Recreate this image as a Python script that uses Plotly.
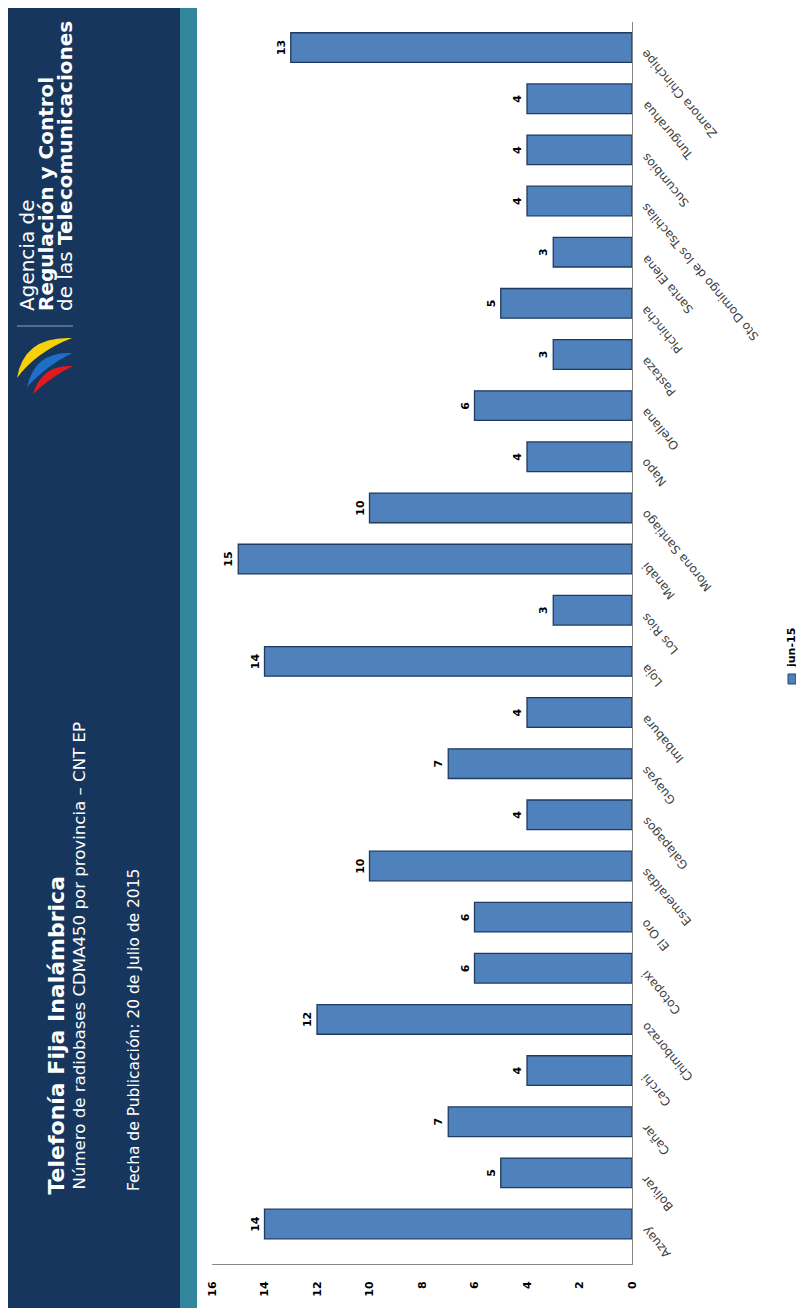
import plotly.graph_objects as go

# ---------------- data ----------------
provincias = ["Azuay", "Bolivar", "Cañar", "Carchi", "Chimborazo", "Cotopaxi", "El Oro",
              "Esmeraldas", "Galapagos", "Guayas", "Imbabura", "Loja", "Los Rios", "Manabi",
              "Morona Santiago", "Napo", "Orellana", "Pastaza", "Pichincha", "Santa Elena",
              "Sto Domingo de los Tsachilas", "Sucumbios", "Tungurahua", "Zamora Chinchipe"]
radiobases_jun15 = [14, 5, 7, 4, 12, 6, 6, 10, 4, 7, 4, 14, 3, 15, 10, 4, 6, 3, 5, 3, 4, 4, 4, 13]
serie_nombre = "jun-15"
valor_ticks = [0, 2, 4, 6, 8, 10, 12, 14, 16]

titulo = "Telefonía Fija Inalámbrica"
subtitulo = "Número de radiobases CDMA450 por provincia – CNT EP"
fecha = "Fecha de Publicación: 20 de Julio de 2015"
agencia = ["Agencia de", "<b>Regulación y Control</b>", "de las <b>Telecomunicaciones</b>"]

# ---------------- layout geometry ----------------
# page coordinates below; the page body adds an 8px offset
OFF = 8
W, H = 796, 1300
PLOT_L, PLOT_R, PLOT_T, PLOT_B = 212, 632, 22, 1264  # page pixels
ML = PLOT_L - OFF
MR = W - (PLOT_R - OFF)
MT = PLOT_T - OFF
MB = H - (PLOT_B - OFF)
PW, PH = W - ML - MR, H - MT - MB


def px(x):
    return (x - OFF - ML) / PW


def py(y):
    return (H - MB - (y - OFF)) / PH


NAVY = "#17365d"
TEAL = "#31869b"
BAR = "#4f81bd"

fig = go.Figure()
fig.add_trace(go.Bar(
    y=provincias, x=radiobases_jun15, orientation="h", name=serie_nombre,
    marker=dict(color=BAR, line=dict(color="#1f3b60", width=1.3)),
    text=radiobases_jun15, textposition="outside", textangle=-90,
    textfont=dict(family="DejaVu Sans", size=11, color="#000000", weight="bold"),
    cliponaxis=False, showlegend=False,
))

shapes = [
    dict(type="rect", xref="paper", yref="paper", x0=px(8), x1=px(180), y0=py(8), y1=py(1308),
         fillcolor=NAVY, line=dict(width=0), layer="below"),
    dict(type="rect", xref="paper", yref="paper", x0=px(180), x1=px(197), y0=py(8), y1=py(1308),
         fillcolor=TEAL, line=dict(width=0), layer="below"),
    # separator in header
    dict(type="line", xref="paper", yref="paper", x0=px(17), x1=px(73), y0=py(326), y1=py(326),
         line=dict(color="#8ea3bd", width=1)),
    # legend key
    dict(type="rect", xref="paper", yref="paper", x0=px(788), x1=px(796), y0=py(674), y1=py(684),
         fillcolor=BAR, line=dict(color="#23426b", width=1)),
]


def crescent(t1, t2, c_out, c_in, color):
    p = (f"M {px(t1[0])},{py(t1[1])} Q {px(c_out[0])},{py(c_out[1])} {px(t2[0])},{py(t2[1])} "
         f"Q {px(c_in[0])},{py(c_in[1])} {px(t1[0])},{py(t1[1])} Z")
    return dict(type="path", xref="paper", yref="paper", path=p, fillcolor=color,
                line=dict(width=0))


shapes += [
    crescent((17, 378), (72, 338), (24, 336), (36, 352), "#f6d10c"),
    crescent((27, 387), (72, 353), (35, 351), (46, 366), "#1f6fc8"),
    crescent((33, 394), (73, 366), (42, 364), (52, 376), "#e2191f"),
]

annotations = []
# header text (rotated)
for txt, xc in zip(agencia, [27, 46, 65]):
    annotations.append(dict(text=txt, xref="paper", yref="paper", x=px(xc), y=py(313),
                            xanchor="center", yanchor="bottom", textangle=-90, showarrow=False,
                            font=dict(family="DejaVu Sans", size=20, color="#ffffff")))
annotations.append(dict(text=f"<b>{titulo}</b>", xref="paper", yref="paper", x=px(56), y=py(1197),
                        xanchor="center", yanchor="bottom", textangle=-90, showarrow=False,
                        font=dict(family="DejaVu Sans", size=22, color="#ffffff")))
annotations.append(dict(text=subtitulo, xref="paper", yref="paper", x=px(79), y=py(1192),
                        xanchor="center", yanchor="bottom", textangle=-90, showarrow=False,
                        font=dict(family="DejaVu Sans", size=16.6, color="#ffffff")))
annotations.append(dict(text=fecha, xref="paper", yref="paper", x=px(134), y=py(1193),
                        xanchor="center", yanchor="bottom", textangle=-90, showarrow=False,
                        font=dict(family="DejaVu Sans", size=15.5, color="#ffffff")))
# legend text
annotations.append(dict(text=f"<b>{serie_nombre}</b>", xref="paper", yref="paper", x=px(791),
                        y=py(670), xanchor="center", yanchor="bottom", textangle=-90,
                        showarrow=False,
                        font=dict(family="DejaVu Sans", size=11, color="#000000")))
# category labels (rotated, attached to the category axis)
for prov in provincias:
    annotations.append(dict(text=prov, xref="x", yref="y", x=0, y=prov, xanchor="left",
                            yanchor="top", xshift=4, yshift=3, textangle=-130, showarrow=False,
                            font=dict(family="DejaVu Sans", size=12, color="#404040")))

fig.update_layout(
    width=W, height=H, margin=dict(l=ML, r=MR, t=MT, b=MB, pad=0, autoexpand=False),
    paper_bgcolor="#ffffff", plot_bgcolor="rgba(0,0,0,0)",
    bargap=0.42, showlegend=False,
    shapes=shapes, annotations=annotations,
    xaxis=dict(range=[16, 0], tickvals=valor_ticks, tickangle=-90, showgrid=False,
               zeroline=False, showline=True, linecolor="#868686", linewidth=1, ticks="",
               ticklabelstandoff=12, automargin=False,
               tickfont=dict(family="DejaVu Sans", size=11, color="#000000", weight="bold")),
    yaxis=dict(categoryorder="array", categoryarray=provincias, side="right",
               showticklabels=False, showgrid=False, zeroline=False, showline=True,
               linecolor="#868686", linewidth=1, ticks="", automargin=False),
)

fig.write_html("out.html")
